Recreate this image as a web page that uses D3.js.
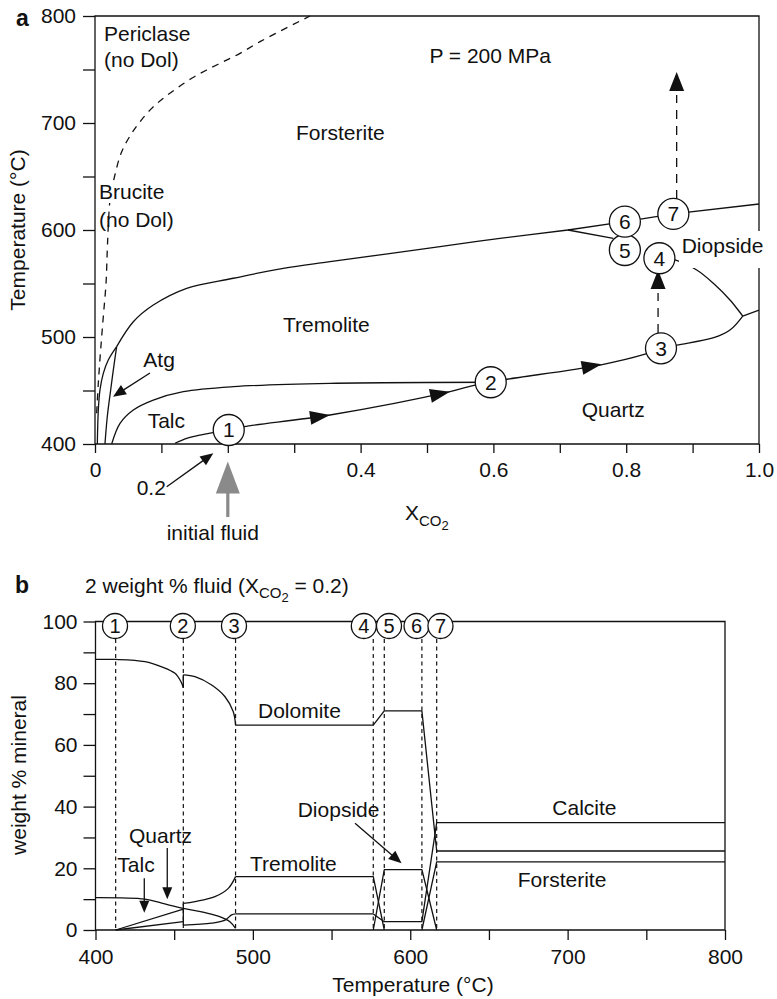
<!DOCTYPE html>
<html><head><meta charset="utf-8">
<script src="https://cdn.jsdelivr.net/npm/d3@7"></script>
<style>
body{margin:0;background:#fff}
svg{display:block}
text{font-family:"Liberation Sans",Arial,Helvetica,sans-serif;fill:#111}
</style>
</head><body><svg id="c" width="777" height="999"></svg>
<script>
// ---------------- DATA : panel a (X_CO2, T °C) ----------------
const xTicksA = [0,0.1,0.2,0.3,0.4,0.5,0.6,0.7,0.8,0.9,1.0];
const xLabelsA = {0:"0",0.4:"0.4",0.6:"0.6",0.8:"0.8",1:"1.0"};
const yTicksA = [400,450,500,550,600,650,700,750,800];
const yLabelsA = [400,500,600,700,800];

const pericBrucite = [[0.0025,428.7],[0.005,456.7],[0.0085,487.9],[0.0125,519],[0.0166,550.2],[0.0185,581.3],[0.02,603.1],[0.0226,628],[0.0276,645.1],[0.0402,673.2],[0.0553,690.4],[0.0678,701.2],[0.0854,713.7],[0.1029,723.1],[0.123,732.4],[0.1456,741.8],[0.1682,749.5],[0.1932,757.3],[0.2184,765.1],[0.2485,776.0],[0.3238,800]];
const atgLeft  = [[0.0035,400],[0.005,431.8],[0.0075,450.5],[0.0125,466],[0.02,478.5],[0.0326,491]];
const atgRight = [[0.015,400],[0.0185,425.5],[0.0236,450.5],[0.0276,469.2],[0.0326,491]];
const forstTrem = [[0.0326,491],[0.0577,514.3],[0.0878,529.9],[0.1381,545.5],[0.2083,554.9],[0.2836,564.2],[0.3539,570.4],[0.5196,584.4],[0.6099,592.2],[0.7123,600]];
const forstTremRight = [[0.7123,600],[0.798,607.8],[0.871,615],[1.0,624.3]];
const branch5 = [[0.7123,600],[0.7806,592.2]];
const talcTrem = [[0.0251,400],[0.0377,419.3],[0.0577,431.8],[0.0878,441.1],[0.133,448.9],[0.2083,453.6],[0.3539,456.7],[0.596,457.7]];
const pathStart = [[0.1205,400.7],[0.1381,405.3],[0.1581,408.4],[0.1782,410.6],[0.2014,413.1]];
const path12 = [[0.2014,413.1],[0.2244,416.2],[0.3539,427.1],[0.5346,448.9],[0.5723,455.1],[0.596,457.7]];
const path23 = [[0.596,457.7],[0.6205,460.5],[0.7605,473.8],[0.8283,483.9],[0.8524,489.4]];
const path3J = [[0.8524,489.4],[0.876,492.5],[0.9307,499.1],[0.9563,506.5],[0.9755,519.6]];
const pathJR = [[0.9755,519.6],[1.0,525.2]];
const diopBound = [[0.85,573.6],[0.8735,572],[0.9062,562.6],[0.9312,550.2],[0.9563,534.6],[0.9755,519.6]];
// arrow heads on reaction path: [tipX, tipT, backX, backT]
const pathArrows = [[0.3539,427.1,0.3133,423.4],[0.5346,448.9,0.5045,444.9],[0.763,474.5,0.7304,470.7]];
// dashed vertical arrows: [X, fromT, tipT]
const dashArrows = [[0.848,503.7,562.6],[0.876,629,747.7]];
const circleLabelsA = ["1","2","3","4","5","6","7"];
const circleXA = [0.2014,0.596,0.8524,0.85,0.798,0.798,0.871];
const circleTA = [413.1,457.7,489.4,573.6,581.3,607.8,615];

// ---------------- DATA : panel b (T °C, weight %) ----------------
const xTicksB = [400,450,500,550,600,650,700,750,800];
const xLabelsB = [400,500,600,700,800];
const yTicksB = [0,10,20,30,40,50,60,70,80,90,100];
const yLabelsB = [0,20,40,60,80,100];
const stepT = [412.8,455.8,489,576.5,583.5,607.4,616.8];
const stepCircleT = [412.4,455.5,488,570.5,586.5,604,619.2];
const stepLabels = ["1","2","3","4","5","6","7"];

const dolomiteA = [[400,87.7],[412.8,87.7],[431.4,87.0],[442.1,85.3],[450.5,83.2],[454.3,80.5],[455.8,78.6]];
const dolomiteJump = [[455.8,78.6],[455.8,82.7]];
const dolomiteB = [[455.8,82.7],[463.2,82.1],[473.8,79.4],[482.3,75.6],[487.5,70.8],[489,66.4]];
const dolomiteC = [[489,66.4],[576.5,66.4],[583.5,71],[607.4,71],[616.8,25.6],[800,25.6]];
const quartzB = [[400,10.5],[431.4,10.0],[442.1,8.7],[455.8,7.0],[467.5,5.9],[478,4.5],[485.4,2.7],[489,0.5]];
const talcB = [[412.8,0],[455.8,6.8]];
const tremA = [[412.8,0],[455.8,2.7]];
const jumpT2 = [[455.8,1.6],[455.8,8.6]];
const tremB = [[455.8,8.6],[463.2,9.2],[475.9,10.8],[484.4,13.5],[489,17.3]];
const tremC = [[489,17.3],[576.5,17.3],[583.5,0]];
const calciteA = [[455.8,1.6],[473.8,2.2],[482.3,3.2],[486.5,4.9],[489,5.2]];
const calciteB = [[489,5.2],[576.5,5.2],[583.5,2.7],[607.4,2.7],[616.8,34.8],[800,34.8]];
const diopsideB = [[576.5,0],[583.5,19.6],[607.4,19.6],[616.8,0]];
const forsteriteB = [[607.4,0],[616.8,22.1],[800,22.1]];

// ---------------- LAYOUT ----------------
const svg = d3.select("#c");
const ink = "#111";
const FS = 21;
const xA = d3.scaleLinear().domain([0,1]).range([95,759]);
const yA = d3.scaleLinear().domain([400,800]).range([444,16]);
const xB = d3.scaleLinear().domain([400,800]).range([95.5,725]);
const yB = d3.scaleLinear().domain([0,100]).range([930,621.5]);

function draw(g, sx, sy, data, curve, extra){
  const p = g.append("path")
    .attr("d", d3.line().x(d=>sx(d[0])).y(d=>sy(d[1])).curve(curve)(data))
    .attr("fill","none").attr("stroke",ink).attr("stroke-width",1.3)
    .attr("stroke-linejoin","round");
  if (extra) extra(p);
  return p;
}
function head(g,x1,y1,x2,y2,len,hw,color){
  const dx=x2-x1, dy=y2-y1, L=Math.hypot(dx,dy), ux=dx/L, uy=dy/L;
  const bx=x2-ux*len, by=y2-uy*len, px=-uy, py=ux;
  g.append("path").attr("d",`M${x2},${y2}L${bx+px*hw},${by+py*hw}L${bx-px*hw},${by-py*hw}Z`)
   .attr("fill",color||ink).attr("stroke","none");
  return [bx,by];
}
function arrow(g,x1,y1,x2,y2,len,hw,color,sw,dash){
  const dx=x2-x1, dy=y2-y1, L=Math.hypot(dx,dy);
  const bx=x2-dx/L*len*0.9, by=y2-dy/L*len*0.9;
  const ln = g.append("line").attr("x1",x1).attr("y1",y1).attr("x2",bx).attr("y2",by)
    .attr("stroke",color||ink).attr("stroke-width",sw||1.3);
  if (dash) ln.attr("stroke-dasharray",dash);
  head(g,x1,y1,x2,y2,len,hw,color);
}
function txt(g,x,y,s,opt){
  const t = g.append("text").attr("x",x).attr("y",y).attr("font-size",(opt&&opt.fs)||FS).text(s);
  if (opt&&opt.anchor) t.attr("text-anchor",opt.anchor);
  if (opt&&opt.bold) t.attr("font-weight","bold");
  return t;
}
function styleAxis(ax){
  ax.select(".domain").remove();
  ax.attr("font-family",null);
  ax.selectAll(".tick line").attr("stroke",ink).attr("stroke-width",1.3);
  ax.selectAll(".tick text").attr("font-size",FS).attr("fill",ink);
}

// ===== Panel a =====
const gA = svg.append("g");
// frame
gA.append("path").attr("d",`M${xA(0)},${yA(800)}H${xA(1)}V${yA(400)}H${xA(0)}Z`)
  .attr("fill","none").attr("stroke",ink).attr("stroke-width",1.3);
styleAxis(gA.append("g").attr("transform",`translate(0,${yA(400)})`)
  .call(d3.axisBottom(xA).tickValues(xTicksA).tickSize(9).tickPadding(9)
  .tickFormat(d=> xLabelsA[d]!==undefined ? xLabelsA[d] : "")));
styleAxis(gA.append("g").attr("transform",`translate(${xA(0)},0)`)
  .call(d3.axisLeft(yA).tickValues(yTicksA).tickSize(12).tickPadding(7)
  .tickFormat(d=> yLabelsA.includes(d) ? d : "")));

const cr = d3.curveCatmullRom.alpha(0.5);
draw(gA,xA,yA,pericBrucite,cr,p=>p.attr("stroke-dasharray","7,6"));
draw(gA,xA,yA,atgLeft,cr);
draw(gA,xA,yA,atgRight,cr);
draw(gA,xA,yA,forstTrem,cr);
draw(gA,xA,yA,forstTremRight,d3.curveLinear);
draw(gA,xA,yA,branch5,d3.curveLinear);
draw(gA,xA,yA,talcTrem,cr);
draw(gA,xA,yA,pathStart,cr);
draw(gA,xA,yA,path12,cr);
draw(gA,xA,yA,path23,cr);
draw(gA,xA,yA,path3J,cr);
draw(gA,xA,yA,pathJR,d3.curveLinear);
draw(gA,xA,yA,diopBound,cr);

pathArrows.forEach(a=>head(gA,xA(a[2]),yA(a[3]),xA(a[0]),yA(a[1]),20,7));
dashArrows.forEach(a=>{
  const x=xA(a[0]), y1=yA(a[1]), y2=yA(a[2]);
  const [bx,by]=head(gA,x,y1,x,y2,19,7.5);
  gA.append("line").attr("x1",x).attr("x2",x).attr("y1",y1).attr("y2",by+4)
    .attr("stroke",ink).attr("stroke-width",1.3).attr("stroke-dasharray","9,7");
});

// white backgrounds for labels crossing lines
gA.append("rect").attr("x",97).attr("y",182).attr("width",74).attr("height",21).attr("fill","#fff");
gA.append("rect").attr("x",679).attr("y",231).attr("width",90).attr("height",37).attr("fill","#fff");

// circles
circleXA.forEach((cx,i)=>{
  const x=xA(cx), y=yA(circleTA[i]);
  gA.append("circle").attr("cx",x).attr("cy",y).attr("r",15.5).attr("fill","#fff").attr("stroke",ink).attr("stroke-width",1.3);
  txt(gA,x,y+7.5,circleLabelsA[i],{anchor:"middle"});
});

// labels
txt(gA,16,25.5,"a",{bold:true,fs:23});
txt(gA,104,40.7,"Periclase");
txt(gA,104,66.7,"(no Dol)");
txt(gA,99,199,"Brucite");
txt(gA,99,226.5,"(no Dol)");
txt(gA,551,63,"P = 200 MPa",{anchor:"end"});
txt(gA,296,139.5,"Forsterite");
txt(gA,283,332,"Tremolite");
txt(gA,143.3,366.7,"Atg");
txt(gA,147.7,428,"Talc");
txt(gA,581.7,416.7,"Quartz");
txt(gA,681.7,253.3,"Diopside");
txt(gA,136.7,495,"0.2");
txt(gA,166.7,540,"initial fluid");
arrow(gA,xA(0.0828),yA(466.4),xA(0.0271),yA(444.2),13,5.5);
arrow(gA,xA(0.108),yA(360),xA(0.1782),yA(391.3),13,5.5);
// grey "initial fluid" arrow below the axis at X = 0.2
arrow(gA,xA(0.2),yA(400)+73,xA(0.2),yA(400)+17.5,32,12,"#8a8a8a",3.2);
// axis titles
gA.append("text").attr("transform","translate(25,230) rotate(-90)").attr("text-anchor","middle")
  .attr("font-size",FS).text("Temperature (°C)");
const xt = gA.append("text").attr("x",405).attr("y",520).attr("font-size",FS);
xt.append("tspan").text("X");
xt.append("tspan").attr("font-size",15).attr("dy",6).text("CO");
xt.append("tspan").attr("font-size",13).attr("dy",4).text("2");

// ===== Panel b =====
const gB = svg.append("g");
gB.append("path").attr("d",`M${xB(400)},${yB(100)}H${xB(800)}V${yB(0)}H${xB(400)}Z`)
  .attr("fill","none").attr("stroke",ink).attr("stroke-width",1.3);
styleAxis(gB.append("g").attr("transform",`translate(0,${yB(0)})`)
  .call(d3.axisBottom(xB).tickValues(xTicksB).tickSize(10).tickPadding(9)
  .tickFormat(d=> xLabelsB.includes(d) ? d : "")));
styleAxis(gB.append("g").attr("transform",`translate(${xB(400)},0)`)
  .call(d3.axisLeft(yB).tickValues(yTicksB).tickSize(12).tickPadding(6)
  .tickFormat(d=> yLabelsB.includes(d) ? d : "")));

stepT.forEach(t=>{
  gB.append("line").attr("x1",xB(t)).attr("x2",xB(t)).attr("y1",639).attr("y2",yB(0))
    .attr("stroke",ink).attr("stroke-width",1.2).attr("stroke-dasharray","4,3.5");
});

draw(gB,xB,yB,dolomiteA,cr);
draw(gB,xB,yB,dolomiteJump,d3.curveLinear);
draw(gB,xB,yB,dolomiteB,cr);
draw(gB,xB,yB,dolomiteC,d3.curveLinear);
draw(gB,xB,yB,quartzB,cr);
draw(gB,xB,yB,talcB,d3.curveLinear);
draw(gB,xB,yB,tremA,d3.curveLinear);
draw(gB,xB,yB,jumpT2,d3.curveLinear);
draw(gB,xB,yB,tremB,cr);
draw(gB,xB,yB,tremC,d3.curveLinear);
draw(gB,xB,yB,calciteA,cr);
draw(gB,xB,yB,calciteB,d3.curveLinear);
draw(gB,xB,yB,diopsideB,d3.curveLinear);
draw(gB,xB,yB,forsteriteB,d3.curveLinear);

stepCircleT.forEach((t,i)=>{
  const x=xB(t), y=626;
  gB.append("circle").attr("cx",x).attr("cy",y).attr("r",12.5).attr("fill","#fff").attr("stroke",ink).attr("stroke-width",1.3);
  txt(gB,x,y+7.2,stepLabels[i],{anchor:"middle",fs:20});
});

txt(gB,15,593.3,"b",{bold:true,fs:23});
const tt = gB.append("text").attr("x",85).attr("y",593.3).attr("font-size",FS);
tt.append("tspan").text("2 weight % fluid (X");
tt.append("tspan").attr("font-size",15).attr("dy",5).text("CO");
tt.append("tspan").attr("font-size",13).attr("dy",4).text("2");
tt.append("tspan").attr("dy",-9).text(" = 0.2)");

txt(gB,258,718.3,"Dolomite");
txt(gB,250,870.7,"Tremolite");
txt(gB,117.3,871.7,"Talc");
txt(gB,129,843.3,"Quartz");
txt(gB,297.7,816.7,"Diopside");
txt(gB,552.3,815,"Calcite");
txt(gB,517.7,886.7,"Forsterite");
arrow(gB,xB(431),yB(16.8),xB(431),yB(5.6),12,5);
arrow(gB,xB(445.6),yB(26.6),xB(445.6),yB(9.95),12,5);
arrow(gB,xB(564.9),yB(34.6),xB(594.5),yB(21.6),13,5.5);

gB.append("text").attr("transform","translate(26,775) rotate(-90)").attr("text-anchor","middle")
  .attr("font-size",FS).text("weight % mineral");
txt(gB,413,992,"Temperature (°C)",{anchor:"middle"});
</script></body></html>
